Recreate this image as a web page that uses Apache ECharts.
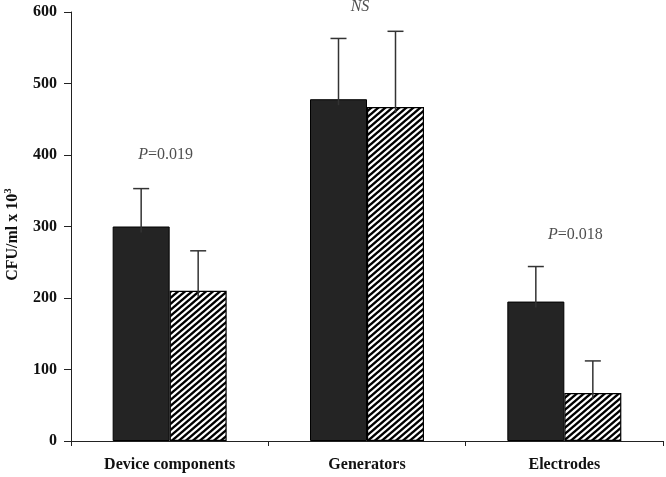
<!DOCTYPE html>
<html>
<head>
<meta charset="utf-8">
<script src="https://cdn.jsdelivr.net/npm/echarts@6/dist/echarts.min.js"></script>
<style>
html,body{margin:0;padding:0;background:#fff;}
#chart{width:666px;height:477px;}
</style>
</head>
<body>
<div id="chart"></div>
<script>
const categories = ['Device components', 'Generators', 'Electrodes'];
const solidValues = [300, 478, 195];
const solidUpper = [353, 563, 244];
const hatchedValues = [210, 467, 67];
const hatchedUpper = [266, 573, 112];
const annotationTexts = ['P=0.019', 'NS', 'P=0.018'];
const annotationLevels = [400, 607, 288];
const yTicks = [0, 100, 200, 300, 400, 500, 600];

const FONT = '"Liberation Serif", "DejaVu Serif", serif';

function makeHatch() {
  const w = 7, h = 6;
  const c = document.createElement('canvas');
  c.width = w; c.height = h;
  const g = c.getContext('2d');
  g.fillStyle = '#fff';
  g.fillRect(0, 0, w, h);
  g.strokeStyle = '#000';
  g.lineWidth = 2.4;
  g.beginPath();
  g.moveTo(-w, 2 * h); g.lineTo(2 * w, -h);
  g.moveTo(-2 * w, 2 * h); g.lineTo(w, -h);
  g.moveTo(0, 2 * h); g.lineTo(3 * w, -h);
  g.stroke();
  return c;
}

const BAR_W = 57;

function errorSeries(values, upper, offset) {
  return {
    type: 'custom',
    z: 5,
    clip: false,
    data: values.map((v, i) => [i, v, upper[i]]),
    encode: { x: 0, y: [1, 2] },
    renderItem: function (params, api) {
      const low = api.coord([api.value(0), api.value(1)]);
      const high = api.coord([api.value(0), api.value(2)]);
      const x = low[0] + offset;
      const cap = 8;
      const style = { stroke: '#333', lineWidth: 1.5 };
      return {
        type: 'group',
        children: [
          { type: 'line', shape: { x1: x, y1: low[1] + 6, x2: x, y2: high[1] }, style: style },
          { type: 'line', shape: { x1: x - cap, y1: high[1], x2: x + cap, y2: high[1] }, style: style }
        ]
      };
    }
  };
}

const annotationOffsets = [[-4, 0], [-7, 0], [11, 0]];

function annotationLabel(t) {
  if (t.startsWith('P=')) return '{it|P}{rg|' + t.slice(1) + '}';
  return '{it|' + t + '}';
}

const chart = echarts.init(document.getElementById('chart'), null, { renderer: 'canvas' });
chart.setOption({
  animation: false,
  backgroundColor: '#fff',
  grid: { left: 71, right: 3, top: 12, bottom: 36, containLabel: false, outerBoundsMode: 'none' },
  xAxis: {
    type: 'category',
    data: categories,
    axisLine: { lineStyle: { color: '#222', width: 1 } },
    axisTick: { show: true, length: 5, inside: false, lineStyle: { color: '#222' } },
    axisLabel: {
      margin: 16,
      color: '#111',
      fontFamily: FONT,
      fontWeight: 'bold',
      fontSize: 16
    },
    splitLine: { show: false }
  },
  yAxis: {
    type: 'value',
    min: 0,
    max: 600,
    interval: 100,
    name: 'CFU/ml x 10{sup|3}',
    nameLocation: 'middle',
    nameGap: 49,
    nameRotate: 90,
    nameTextStyle: {
      color: '#111',
      fontFamily: FONT,
      fontWeight: 'bold',
      fontSize: 16,
      padding: [0, 16, 0, 0],
      rich: {
        sup: { fontFamily: FONT, fontWeight: 'bold', fontSize: 11, verticalAlign: 'top', padding: [0, 0, 8, 0], color: '#111' }
      }
    },
    axisLine: { show: true, lineStyle: { color: '#222', width: 1 } },
    axisTick: { show: true, length: 7, lineStyle: { color: '#222' } },
    axisLabel: {
      margin: 14,
      color: '#111',
      fontFamily: FONT,
      fontWeight: 'bold',
      fontSize: 16,
      formatter: function (v) { return yTicks.indexOf(v) >= 0 ? String(v) : ''; }
    },
    splitLine: { show: false }
  },
  series: [
    {
      type: 'bar',
      data: solidValues,
      barWidth: BAR_W,
      barGap: '0%',
      itemStyle: { color: '#242424', borderColor: '#000', borderWidth: 1 }
    },
    {
      type: 'bar',
      data: hatchedValues,
      barWidth: BAR_W,
      barGap: '0%',
      itemStyle: {
        color: { image: makeHatch(), repeat: 'repeat' },
        borderColor: '#000',
        borderWidth: 1.2
      }
    },
    errorSeries(solidValues, solidUpper, -BAR_W / 2),
    errorSeries(hatchedValues, hatchedUpper, BAR_W / 2),
    {
      type: 'scatter',
      clip: false,
      symbolSize: 0,
      silent: true,
      z: 10,
      data: annotationTexts.map((t, i) => ({
        value: [i, annotationLevels[i]],
        label: { offset: annotationOffsets[i] }
      })),
      label: {
        show: true,
        position: 'inside',
        formatter: function (p) { return annotationLabel(annotationTexts[p.dataIndex]); },
        rich: {
          it: { fontFamily: FONT, fontStyle: 'italic', fontSize: 16, color: '#222' },
          rg: { fontFamily: FONT, fontSize: 16, color: '#222' }
        }
      }
    }
  ]
});
</script>
</body>
</html>
